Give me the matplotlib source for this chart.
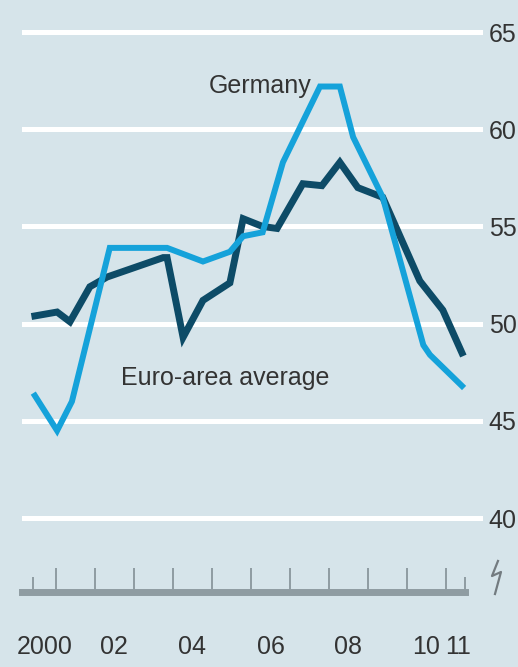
import matplotlib
matplotlib.use('Agg')
import matplotlib.pyplot as plt

# values (x = decimal year)
euro_x = [2000.46, 2001.03, 2001.36, 2001.87, 2002.31, 2003.75, 2003.85, 2004.26, 2004.77,
          2005.46, 2005.80, 2006.30, 2006.67, 2007.33, 2007.82, 2008.28, 2008.74, 2009.38,
          2010.33, 2010.92, 2011.41]
euro_y = [50.4, 50.6, 50.1, 51.9, 52.4, 53.4, 53.4, 49.3, 51.2,
          52.1, 55.4, 55.0, 54.9, 57.2, 57.1, 58.3, 57.0, 56.5,
          52.2, 50.7, 48.5]

germany_x = [2000.46, 2001.03, 2001.41, 2002.38, 2003.85, 2004.77, 2005.46, 2005.80, 2006.30,
             2006.82, 2007.77, 2008.28, 2008.62, 2009.38, 2010.42, 2010.59, 2011.41]
germany_y = [46.3, 44.5, 46.0, 53.9, 53.9, 53.2, 53.7, 54.5, 54.7,
             58.3, 62.2, 62.2, 59.6, 56.5, 48.9, 48.4, 46.8]

y_ticks = [40, 45, 50, 55, 60, 65]
year_ticks = list(range(2001, 2012))
data_ends = [2000.41, 2011.5]
year_labels = ['2000', '02', '04', '06', '08', '10', '11']
year_label_pos = [2000.72, 2002.5, 2004.5, 2006.5, 2008.5, 2010.5, 2011.3]

bg = '#d6e4ea'
dark = '#0d4b67'
light = '#15a2da'
grey = '#8f9ca2'
txt = '#333333'

# no condensed face is available, Liberation Sans is the narrowest plain sans here
plt.rcParams['font.family'] = ['Liberation Sans', 'DejaVu Sans']

fig = plt.figure(figsize=(5.18, 6.67), dpi=100, facecolor=bg)
ax = fig.add_axes([22 / 518, 1 - 592 / 667, 461 / 518, 592 / 667])
ax.set_facecolor(bg)

x0, x1 = 2000.13, 2011.95
ax.set_xlim(x0, x1)
ax.set_ylim(36.2, 66.65)

for v in y_ticks:
    ax.axhline(v, color='white', lw=3.6, zorder=1)

ax.plot(euro_x, euro_y, color=dark, lw=5, solid_joinstyle='miter', zorder=3)
ax.plot(germany_x, germany_y, color=light, lw=4.3, solid_joinstyle='miter', zorder=4)

ax.text(2006.23, 61.86, 'Germany', ha='center', va='baseline', fontsize=18, color=txt)
ax.text(2005.33, 46.84, 'Euro-area average', ha='center', va='baseline', fontsize=18, color=txt)

# axes styling
for s in ['top', 'left', 'right']:
    ax.spines[s].set_visible(False)
ax.spines['bottom'].set_bounds(x0, 2011.5)
ax.spines['bottom'].set_color(grey)
ax.spines['bottom'].set_linewidth(5)

ax.set_xticks(year_ticks)
ax.set_xticks(data_ends, minor=True)
ax.tick_params(axis='x', which='major', direction='in', length=17, width=1.4,
               color=grey, labelbottom=False)
ax.tick_params(axis='x', which='minor', direction='in', length=11, width=1.4,
               color=grey, labelbottom=False)

ax.yaxis.tick_right()
ax.set_yticks(y_ticks)
ax.set_yticklabels([str(v) for v in y_ticks])
ax.tick_params(axis='y', length=0, pad=4, labelsize=18, labelcolor=txt)

for lab, pos in zip(year_labels, year_label_pos):
    ax.text(pos, -0.093, lab, transform=ax.get_xaxis_transform(), ha='center', va='center',
            fontsize=18, color=txt)

# axis break mark
ax.plot([1.0325, 1.0195, 1.039, 1.026], [0.0524, 0.027, 0.0338, -0.0034],
        transform=ax.transAxes, clip_on=False, color='#737b80', lw=1.6)

fig.savefig('out.png', dpi=100, facecolor=bg)
